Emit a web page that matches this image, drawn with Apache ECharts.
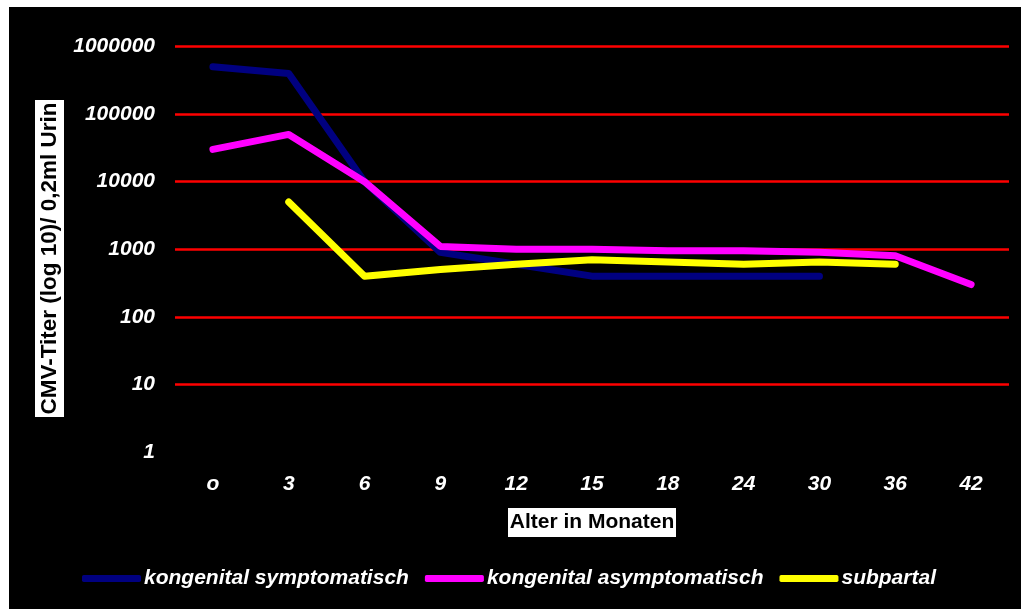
<!DOCTYPE html>
<html>
<head>
<meta charset="utf-8">
<script src="https://cdn.jsdelivr.net/npm/echarts@6/dist/echarts.min.js"></script>
<style>
html,body{margin:0;padding:0;background:#fff;width:1021px;height:609px;overflow:hidden;}
#c{position:absolute;left:9px;top:7px;width:1012px;height:602px;background:#000;}
</style>
</head>
<body>
<div id="c"></div>
<script>
var categories = ['o','3','6','9','12','15','18','24','30','36','42'];
var symptomatisch = [500000, 400000, 10000, 900, 600, 400, 400, 400, 400, null, null];
var asymptomatisch = [30000, 50000, 10000, 1100, 1000, 1000, 950, 950, 900, 800, 300];
var subpartal = [null, 5000, 400, 500, 600, 700, 650, 600, 650, 600, null];
var seriesNames = ['kongenital symptomatisch', 'kongenital asymptomatisch', 'subpartal'];
var seriesColors = ['#000080', '#FF00FF', '#FFFF00'];
var yAxisTitle = 'CMV-Titer (log 10)/ 0,2ml Urin';
var xAxisTitle = 'Alter in Monaten';

var chart = echarts.init(document.getElementById('c'), null, {renderer:'canvas'});
var font = '"Liberation Sans", Arial, sans-serif';
function line(name, data, color){
  return {
    name: name, type: 'line', data: data, showSymbol: false, symbol: 'none',
    connectNulls: false,
    lineStyle: {color: color, width: 7, cap: 'round', join: 'round'},
    itemStyle: {color: color}
  };
}
chart.setOption({
  animation: false,
  backgroundColor: '#000',
  grid: {left: 166, right: 12, top: 39.5, bottom: 157},
  xAxis: {
    type: 'category', data: categories, boundaryGap: true,
    axisLine: {show: false}, axisTick: {show: false},
    axisLabel: {color: '#fff', fontFamily: font, fontSize: 21, fontWeight: 'bold', fontStyle: 'italic', margin: 22}
  },
  yAxis: {
    type: 'log', logBase: 10, min: 1, max: 1000000,
    axisLine: {show: false}, axisTick: {show: false},
    axisLabel: {color: '#fff', fontFamily: font, fontSize: 21, fontWeight: 'bold', fontStyle: 'italic', margin: 20,
      formatter: function(v){ return String(Math.round(v)); }},
    splitLine: {show: true, lineStyle: {color: ['rgba(0,0,0,0)','#FF0000','#FF0000','#FF0000','#FF0000','#FF0000','#FF0000'], width: 2.5}}
  },
  legend: {
    left: 68, top: 556, itemWidth: 59, itemHeight: 7, itemGap: 16, icon: 'roundRect',
    data: seriesNames,
    textStyle: {color: '#fff', fontFamily: font, fontSize: 21, fontWeight: 'bold', fontStyle: 'italic', padding: [0,0,0,-2]}
  },
  graphic: [
    {type: 'rect', shape: {x: 26, y: 93, width: 29, height: 317}, style: {fill: '#fff'}},
    {type: 'text', x: 40.5, y: 251.5, rotation: Math.PI/2,
      style: {text: yAxisTitle, fill: '#000', font: 'bold 22.5px ' + font, align: 'center', verticalAlign: 'middle'}},
    {type: 'rect', shape: {x: 499, y: 501, width: 168, height: 29}, style: {fill: '#fff'}},
    {type: 'text', x: 583, y: 515.5,
      style: {text: xAxisTitle, fill: '#000', font: 'bold 21px ' + font, align: 'center', verticalAlign: 'middle'}}
  ],
  series: [
    line(seriesNames[0], symptomatisch, seriesColors[0]),
    line(seriesNames[1], asymptomatisch, seriesColors[1]),
    line(seriesNames[2], subpartal, seriesColors[2])
  ]
});
</script>
</body>
</html>
